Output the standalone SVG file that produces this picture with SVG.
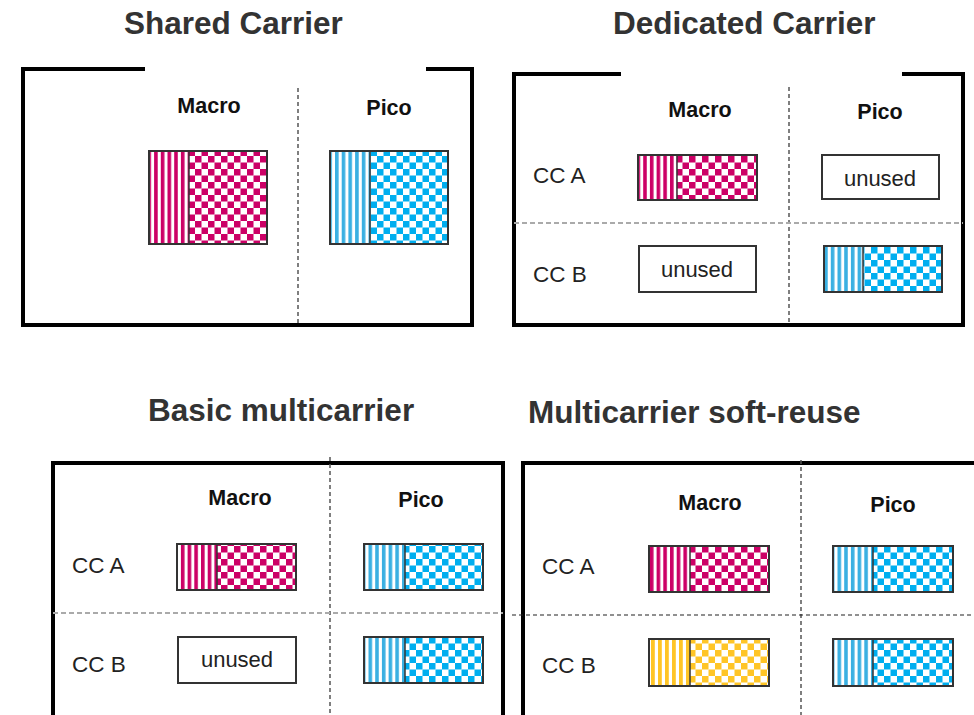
<svg xmlns="http://www.w3.org/2000/svg" width="974" height="715" viewBox="0 0 974 715">
<style>
.title{font-family:"Liberation Sans",Arial,sans-serif;font-weight:bold;font-size:31.5px;fill:#333}
.col{font-family:"Liberation Sans",Arial,sans-serif;font-weight:bold;font-size:21.5px;fill:#111;text-anchor:middle}
.cc{font-family:"Liberation Sans",Arial,sans-serif;font-size:22.5px;fill:#222}
.un{font-family:"Liberation Sans",Arial,sans-serif;font-size:22px;fill:#222;text-anchor:middle}
.frame{fill:none;stroke:#000;stroke-width:4}
.box{fill:none;stroke:#333;stroke-width:2}
.sep{stroke:#333;stroke-width:1.5}
.vd{stroke:#555;stroke-width:1.5;stroke-dasharray:4 3}
.hd{stroke:#aaa;stroke-width:2;stroke-dasharray:5 3}
.hd2{stroke:#222;stroke-width:1.2;stroke-dasharray:4 3}
</style>
<defs>
<pattern id="sm" patternUnits="userSpaceOnUse" width="6.7" height="10"><rect width="6.7" height="10" fill="#fff"/><rect x="0" width="3.6" height="10" fill="#cc0066"/></pattern>
<pattern id="cm" patternUnits="userSpaceOnUse" width="13" height="13"><rect width="13" height="13" fill="#fff"/><rect width="6.5" height="6.5" fill="#cc0066"/><rect x="6.5" y="6.5" width="6.5" height="6.5" fill="#cc0066"/></pattern>
<pattern id="sc" patternUnits="userSpaceOnUse" width="6.7" height="10"><rect width="6.7" height="10" fill="#fff"/><rect x="0" width="3.6" height="10" fill="#3ab0e2"/></pattern>
<pattern id="cc" patternUnits="userSpaceOnUse" width="13" height="13"><rect width="13" height="13" fill="#fff"/><rect width="6.5" height="6.5" fill="#00aeef"/><rect x="6.5" y="6.5" width="6.5" height="6.5" fill="#00aeef"/></pattern>
<pattern id="sy" patternUnits="userSpaceOnUse" width="7" height="10"><rect width="7" height="10" fill="#fff"/><rect x="0" width="3.8" height="10" fill="#ffc526"/></pattern>
<pattern id="cy" patternUnits="userSpaceOnUse" width="13" height="13"><rect width="13" height="13" fill="#fff"/><rect width="6.5" height="6.5" fill="#ffc526"/><rect x="6.5" y="6.5" width="6.5" height="6.5" fill="#ffc526"/></pattern>
</defs>
<rect width="974" height="715" fill="#fff"/>

<!-- titles -->
<text class="title" x="124" y="34">Shared Carrier</text>
<text class="title" x="613" y="34">Dedicated Carrier</text>
<text class="title" x="148" y="421">Basic multicarrier</text>
<text class="title" x="528" y="423">Multicarrier soft-reuse</text>

<!-- frames -->
<path class="frame" d="M145,69 H23 V325 H472 V69 H426"/>
<path class="frame" d="M621,74 H514 V325 H963 V74 H902"/>
<path class="frame" d="M53,715 V463 H503 V715"/>
<path class="frame" d="M523,715 V463 H974"/>

<g id="dividers">
<line class="vd" x1="298" y1="88" x2="298" y2="325"/>
<line class="vd" x1="789" y1="87" x2="789" y2="325"/>
<line class="hd" x1="514" y1="223" x2="963" y2="223"/>
<line class="vd" x1="330" y1="457" x2="330" y2="715"/>
<line class="hd" x1="53" y1="613" x2="503" y2="613"/>
<line class="vd" x1="801" y1="460" x2="801" y2="715"/>
<line class="hd2" x1="512" y1="615" x2="974" y2="615"/>
</g>

<!-- labels -->
<text class="col" x="209" y="113">Macro</text>
<text class="col" x="389" y="115">Pico</text>
<text class="col" x="700" y="117">Macro</text>
<text class="col" x="880" y="119">Pico</text>
<text class="col" x="240" y="505">Macro</text>
<text class="col" x="421" y="507">Pico</text>
<text class="col" x="710" y="510">Macro</text>
<text class="col" x="893" y="512">Pico</text>

<text class="cc" x="533" y="183">CC A</text>
<text class="cc" x="533" y="282">CC B</text>
<text class="cc" x="72" y="573">CC A</text>
<text class="cc" x="72" y="672">CC B</text>
<text class="cc" x="542" y="574">CC A</text>
<text class="cc" x="542" y="673">CC B</text>

<!-- Shared carrier -->
<g id="p1-macro">
<rect x="149" y="151" width="40" height="93" fill="url(#sm)"/>
<rect x="189" y="151" width="78" height="93" fill="url(#cm)"/>
<line class="sep" x1="189" y1="151" x2="189" y2="244"/>
<rect class="box" x="149" y="151" width="118" height="93"/>
</g>
<g id="p1-pico">
<rect x="330" y="151" width="40" height="93" fill="url(#sc)"/>
<rect x="370" y="151" width="78" height="93" fill="url(#cc)"/>
<line class="sep" x1="370" y1="151" x2="370" y2="244"/>
<rect class="box" x="330" y="151" width="118" height="93"/>
</g>

<!-- Dedicated carrier -->
<g id="p2-macro-a">
<rect x="638" y="155" width="39" height="45" fill="url(#sm)"/>
<rect x="677" y="155" width="80" height="45" fill="url(#cm)"/>
<line class="sep" x1="677" y1="155" x2="677" y2="200"/>
<rect class="box" x="638" y="155" width="119" height="45"/>
</g>
<g id="p2-pico-a">
<rect class="box" x="822" y="155" width="117" height="44" fill="#fff"/>
<text class="un" x="880" y="186">unused</text>
</g>
<g id="p2-macro-b">
<rect class="box" x="639" y="246" width="117" height="46" fill="#fff"/>
<text class="un" x="697" y="277">unused</text>
</g>
<g id="p2-pico-b">
<rect x="824" y="246" width="39" height="46" fill="url(#sc)"/>
<rect x="863" y="246" width="79" height="46" fill="url(#cc)"/>
<line class="sep" x1="863" y1="246" x2="863" y2="292"/>
<rect class="box" x="824" y="246" width="118" height="46"/>
</g>

<!-- Basic multicarrier -->
<g id="p3-macro-a">
<rect x="177" y="544" width="40" height="46" fill="url(#sm)"/>
<rect x="217" y="544" width="79" height="46" fill="url(#cm)"/>
<line class="sep" x1="217" y1="544" x2="217" y2="590"/>
<rect class="box" x="177" y="544" width="119" height="46"/>
</g>
<g id="p3-pico-a">
<rect x="364" y="544" width="41" height="46" fill="url(#sc)"/>
<rect x="405" y="544" width="78" height="46" fill="url(#cc)"/>
<line class="sep" x1="405" y1="544" x2="405" y2="590"/>
<rect class="box" x="364" y="544" width="119" height="46"/>
</g>
<g id="p3-macro-b">
<rect class="box" x="178" y="637" width="118" height="46" fill="#fff"/>
<text class="un" x="237" y="667">unused</text>
</g>
<g id="p3-pico-b">
<rect x="364" y="637" width="41" height="46" fill="url(#sc)"/>
<rect x="405" y="637" width="78" height="46" fill="url(#cc)"/>
<line class="sep" x1="405" y1="637" x2="405" y2="683"/>
<rect class="box" x="364" y="637" width="119" height="46"/>
</g>

<!-- Multicarrier soft-reuse -->
<g id="p4-macro-a">
<rect x="649" y="546" width="41" height="46" fill="url(#sm)"/>
<rect x="690" y="546" width="79" height="46" fill="url(#cm)"/>
<line class="sep" x1="690" y1="546" x2="690" y2="592"/>
<rect class="box" x="649" y="546" width="120" height="46"/>
</g>
<g id="p4-pico-a">
<rect x="833" y="546" width="40" height="46" fill="url(#sc)"/>
<rect x="873" y="546" width="80" height="46" fill="url(#cc)"/>
<line class="sep" x1="873" y1="546" x2="873" y2="592"/>
<rect class="box" x="833" y="546" width="120" height="46"/>
</g>
<g id="p4-macro-b">
<rect x="649" y="639" width="41" height="47" fill="url(#sy)"/>
<rect x="690" y="639" width="79" height="47" fill="url(#cy)"/>
<line class="sep" x1="690" y1="639" x2="690" y2="686"/>
<rect class="box" x="649" y="639" width="120" height="47"/>
</g>
<g id="p4-pico-b">
<rect x="833" y="639" width="40" height="47" fill="url(#sc)"/>
<rect x="873" y="639" width="80" height="47" fill="url(#cc)"/>
<line class="sep" x1="873" y1="639" x2="873" y2="686"/>
<rect class="box" x="833" y="639" width="120" height="47"/>
</g>
</svg>
